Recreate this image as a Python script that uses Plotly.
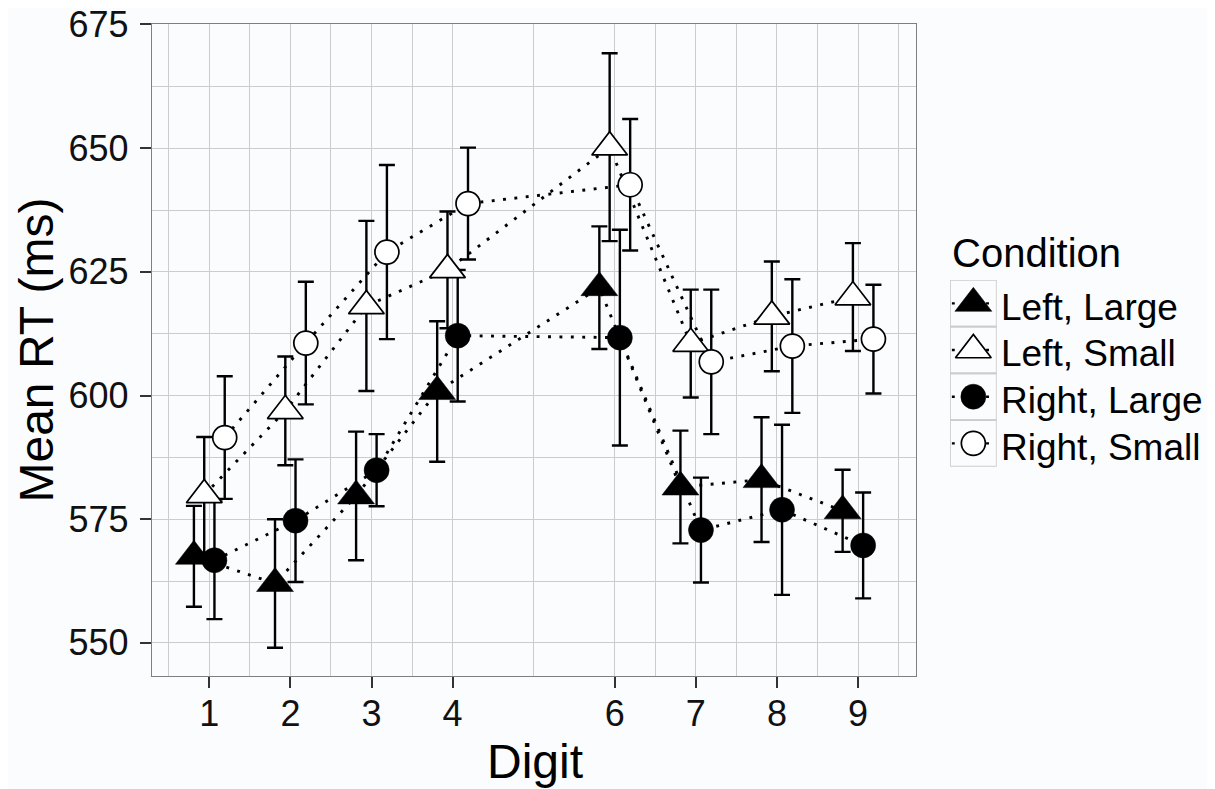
import numpy as np
import plotly.graph_objects as go

# ---------------- data ----------------
digits = [1, 2, 3, 4, 6, 7, 8, 9]
conditions = ["Left, Large", "Left, Small", "Right, Large", "Right, Small"]

left_large_mean = [567.5, 562.0, 579.7, 600.8, 621.8, 581.5, 583.0, 576.7]
left_large_se = [10.2, 13.0, 13.0, 14.2, 12.4, 11.4, 12.6, 8.3]
left_small_mean = [579.9, 596.9, 618.1, 625.4, 650.2, 610.5, 616.0, 619.9]
left_small_se = [11.7, 11.0, 17.2, 11.8, 19.0, 10.9, 11.1, 10.9]
right_large_mean = [566.7, 574.7, 584.9, 612.1, 611.7, 572.8, 576.9, 569.7]
right_large_se = [11.9, 12.4, 7.3, 13.3, 21.8, 10.6, 17.2, 10.7]
right_small_mean = [591.5, 610.6, 629.0, 638.8, 642.6, 606.8, 610.0, 611.4]
right_small_se = [12.4, 12.4, 17.6, 11.3, 13.3, 14.6, 13.5, 11.0]

x_tick_labels = ["1", "2", "3", "4", "6", "7", "8", "9"]
y_ticks = [550, 575, 600, 625, 650, 675]
y_minor = [562.5, 587.5, 612.5, 637.5, 662.5]
x_minor = [0.5, 1.5, 2.5, 3.5, 5, 6.5, 7.5, 8.5, 9.5]

means = [left_large_mean, left_small_mean, right_large_mean, right_small_mean]
ses = [left_large_se, left_small_se, right_large_se, right_small_se]

# ---------------- styles ----------------
dodge = [-0.19, -0.063, 0.063, 0.19]
symbols = ["triangle-up", "triangle-up", "circle", "circle"]
fills = ["black", "white", "black", "white"]
sizes = [32, 31, 25, 24]
line_w = [0.5, 1.7, 0.5, 1.7]
BG = "#fbfcfe"
FONT = "Liberation Sans, Arial, Helvetica, sans-serif"
DOT = "2.9px,8.5px"

OFF = 8  # page body margin
W, H = 1215, 789
ML, MR, MT, MB = 144, 5, 16, 121
PW, PH = W - ML - MR, H - MT - MB
plot_right = 916  # in page pixels


def px_x(x):
    return (x - OFF - ML) / PW


def px_y(y):
    return (H - MB - (y - OFF)) / PH


fig = go.Figure()
xs = [np.array(digits) + d for d in dodge]

# dotted lines
for i in range(4):
    fig.add_trace(go.Scatter(
        x=xs[i], y=means[i], mode="lines",
        line=dict(color="black", width=2.9, dash=DOT),
        showlegend=False, hoverinfo="skip"))

# error bars
for i in range(4):
    fig.add_trace(go.Scatter(
        x=xs[i], y=means[i], mode="markers",
        marker=dict(size=1, color="rgba(0,0,0,0)"),
        error_y=dict(type="data", array=ses[i], color="black",
                     thickness=2.4, width=8),
        showlegend=False, hoverinfo="skip"))

# points
for i in range(4):
    fig.add_trace(go.Scatter(
        x=xs[i], y=means[i], mode="markers", name=conditions[i],
        marker=dict(symbol=symbols[i], size=sizes[i], color=fills[i],
                    line=dict(color="black", width=line_w[i])),
        showlegend=False))

# custom legend keys
legend_rows = list(range(len(conditions)))
for i in legend_rows:
    fig.add_trace(go.Scatter(
        x=[0], y=[i], xaxis="x2", yaxis="y2", mode="markers",
        marker=dict(symbol=symbols[i], size=sizes[i], color=fills[i],
                    line=dict(color="black", width=line_w[i])),
        showlegend=False, hoverinfo="skip"))

shapes = []
annotations = []
for i in legend_rows:
    shapes.append(dict(type="rect", xref="x2", yref="y2", x0=-0.5, x1=0.5,
                       y0=i - 0.5, y1=i + 0.5, line=dict(color="#cccccc", width=1.7),
                       fillcolor="rgba(0,0,0,0)", layer="below"))
    shapes.append(dict(type="line", xref="x2", yref="y2", x0=-0.46, x1=0.46,
                       y0=i, y1=i, line=dict(color="black", width=2.4, dash=DOT),
                       layer="below"))
    annotations.append(dict(text=conditions[i], xref="paper", yref="paper",
                            x=px_x(999), y=px_y(307.2 + 46.7 * i),
                            xanchor="left", yanchor="middle", showarrow=False,
                            font=dict(family=FONT, size=37, color="black")))

annotations.append(dict(text="Condition", xref="paper", yref="paper",
                        x=px_x(950), y=px_y(253), xanchor="left", yanchor="middle",
                        showarrow=False, font=dict(family=FONT, size=40, color="black")))
annotations.append(dict(text="Digit", xref="paper", yref="paper",
                        x=px_x(534.5), y=px_y(762), xanchor="center", yanchor="middle",
                        showarrow=False, font=dict(family=FONT, size=48, color="black")))
annotations.append(dict(text="Mean RT (ms)", xref="paper", yref="paper",
                        x=px_x(35.5), y=px_y(350), xanchor="center", yanchor="middle",
                        textangle=-90, showarrow=False,
                        font=dict(family=FONT, size=48, color="black")))

axis_common = dict(
    showline=True, linecolor="#7f7f7f", linewidth=1.3, mirror=True,
    ticks="outside", ticklen=11, tickwidth=2.3, tickcolor="#333333",
    showgrid=True, gridcolor="#cccccc", gridwidth=1, zeroline=False,
    ticklabeloverflow="allow", automargin=False,
    tickfont=dict(family=FONT, size=36, color="#111111"),
)

fig.update_layout(
    width=W, height=H,
    margin=dict(l=ML, r=MR, t=MT, b=MB, autoexpand=False),
    paper_bgcolor=BG, plot_bgcolor=BG,
    xaxis=dict(domain=[0, px_x(plot_right)], range=[0.293, 9.715],
               tickmode="array", tickvals=digits, ticktext=x_tick_labels,
               ticklabelstandoff=-5,
               minor=dict(tickvals=x_minor, showgrid=True, gridcolor="#cccccc",
                          gridwidth=1, ticks=""),
               **axis_common),
    yaxis=dict(range=[543.3, 675.1], tickmode="array", tickvals=y_ticks,
               ticklabelstandoff=4,
               minor=dict(tickvals=y_minor, showgrid=True, gridcolor="#cccccc",
                          gridwidth=1, ticks=""),
               **axis_common),
    xaxis2=dict(domain=[px_x(950), px_x(996.7)], anchor="y2", range=[-0.5, 0.5],
                visible=False, fixedrange=True, automargin=False),
    yaxis2=dict(domain=[px_y(466.7), px_y(280)], anchor="x2", range=[3.5, -0.5],
                visible=False, fixedrange=True, automargin=False),
    shapes=shapes,
    annotations=annotations,
    showlegend=False,
)

fig.write_html("out.html")
